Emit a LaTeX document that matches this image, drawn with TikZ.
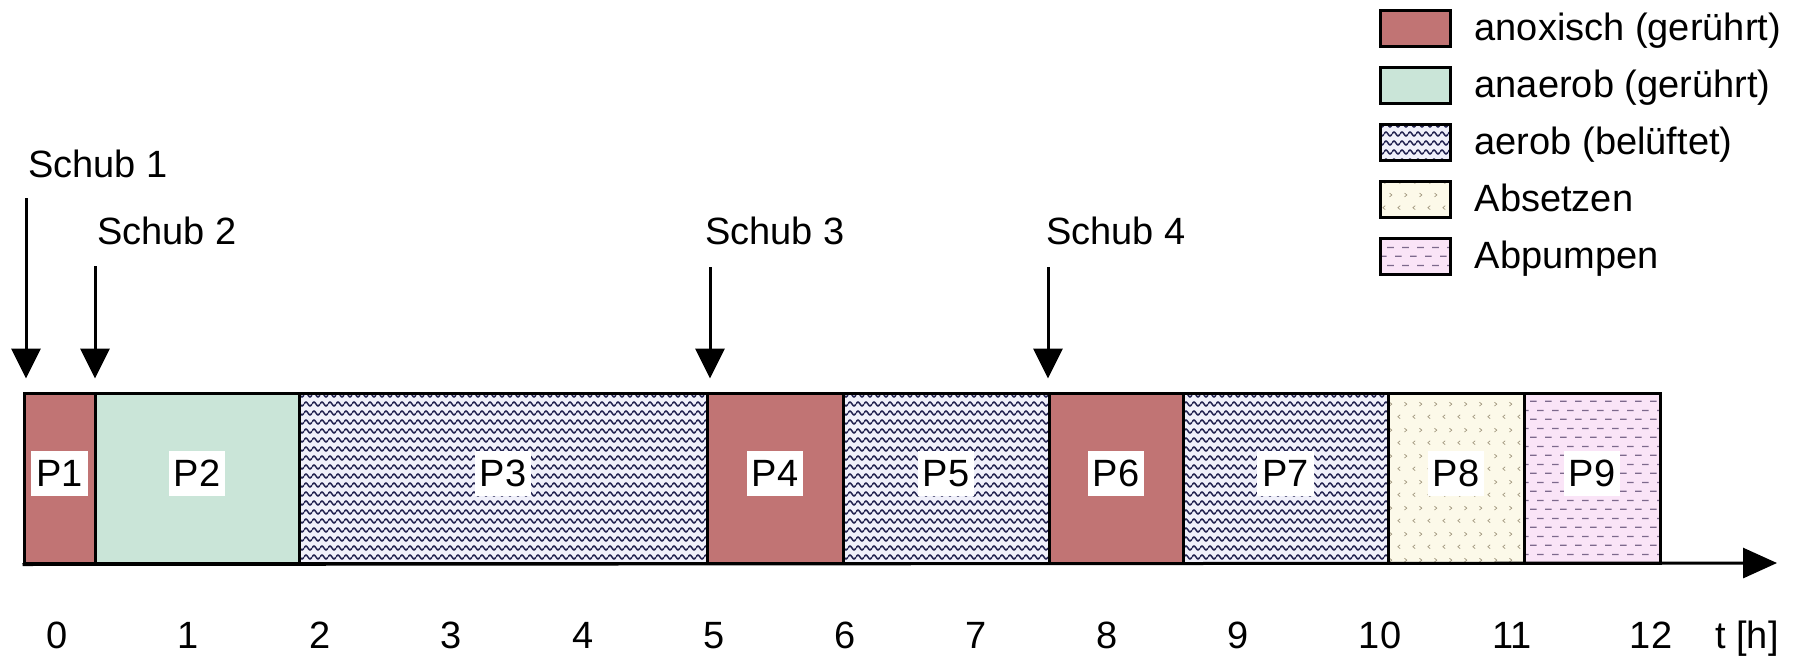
\documentclass[tikz,border=0pt]{standalone}
\usepackage{fontspec}
\setmainfont{Liberation Sans}
\usetikzlibrary{arrows.meta, fit, patterns.meta}

\definecolor{anoxrot}{RGB}{193,116,116}
\definecolor{anaergruen}{RGB}{202,229,216}
\definecolor{aerobgrund}{RGB}{240,240,250}
\definecolor{aerobwelle}{RGB}{35,35,80}
\definecolor{absetzgrund}{RGB}{252,249,233}
\definecolor{absetzmuster}{RGB}{160,150,125}
\definecolor{abpumpgrund}{RGB}{250,228,247}
\definecolor{abpumpmuster}{RGB}{125,105,140}

% Fuellmuster
\tikzdeclarepattern{name=wellen,
  bounding box={(0pt,-4.5pt) and (8pt,4.5pt)}, tile size={(8pt,9pt)},
  code={\draw[line width=1.5pt] (0pt,0pt) sin (2pt,2pt) cos (4pt,0pt) sin (6pt,-2pt) cos (8pt,0pt);}}
\tikzdeclarepattern{name=winkel,
  bounding box={(0pt,0pt) and (15pt,26pt)}, tile size={(15pt,26pt)},
  code={\draw[line width=0.7pt] (5.5pt,4.5pt) -- (3pt,6.5pt) -- (5.5pt,8.5pt);
        \draw[line width=0.7pt] (10pt,17.5pt) -- (12.5pt,19.5pt) -- (10pt,21.5pt);}}
\tikzdeclarepattern{name=striche,
  bounding box={(0pt,0pt) and (15pt,18pt)}, tile size={(15pt,18pt)},
  code={\draw[line width=1.3pt] (0pt,4pt) -- (7pt,4pt);
        \draw[line width=1.3pt] (7.5pt,13pt) -- (14.5pt,13pt);}}

\tikzset{
  phase/.style={draw, line width=3pt, inner sep=0pt},
  anox/.style={fill=anoxrot},
  anaer/.style={fill=anaergruen},
  aerob/.style={preaction={fill=aerobgrund}, pattern=wellen, pattern color=aerobwelle},
  absetz/.style={preaction={fill=absetzgrund}, pattern=winkel, pattern color=absetzmuster},
  abpump/.style={preaction={fill=abpumpgrund}, pattern=striche, pattern color=abpumpmuster},
  plabel/.style={fill=white, inner xsep=5pt, inner ysep=9pt, text height=27pt, text depth=0pt},
  txt/.style={anchor=base west, inner sep=0pt},
  pfeil/.style={-{Triangle[length=30pt,width=29pt]}, line width=3pt, shorten >=13pt},
}

\begin{document}
\begin{tikzpicture}[x=1pt, y=-1pt, font=\fontsize{38}{46}\selectfont]
  \useasboundingbox (0,0) rectangle (1806,656);

  % Phasen
  \foreach \n/\a/\b/\art in {1/24/95/anox, 2/95/299/anaer, 3/299/707/aerob,
      4/707/843/anox, 5/843/1049/aerob, 6/1049/1183/anox, 7/1183/1388/aerob,
      8/1388/1524/absetz, 9/1524/1660/abpump}
  {
    \node[phase, \art, fit={(\a,393) (\b,563)}] (p\n) {};
    \node[plabel] (l\n) at ([yshift=5pt]p\n.center) {P\n};
  }

  % Zeitachse
  \coordinate (ende) at (1777,563);
  \draw[line width=3pt, -{Triangle[length=34pt,width=30pt]}] (p1.south west) -- (ende);
  \foreach \t/\x in {0/57, 1/188, 2/320, 3/451, 4/583, 5/714, 6/845, 7/976,
      8/1107, 9/1238, 10/1380, 11/1512, 12/1651}
    \node[anchor=base] (t\t) at (\x,648) {\t};
  \node[anchor=base] (th) at (1747,648) {t [h]};

  % Beschickung
  \node[txt] (s1) at (28,177) {Schub 1};
  \node[txt] (s2) at (97,244) {Schub 2};
  \node[txt] (s3) at (705,244) {Schub 3};
  \node[txt] (s4) at (1046,244) {Schub 4};
  \coordinate (a1) at (26,198);
  \coordinate (a2) at (95,266);
  \coordinate (a3) at (710,267);
  \coordinate (a4) at (1048,267);
  \draw[pfeil] (a1) -- (a1 |- p1.north);
  \draw[pfeil] (a2) -- (a2 |- p2.north);
  \draw[pfeil] (a3) -- (a3 |- p4.north);
  \draw[pfeil] (a4) -- (a4 |- p6.north);

  % Legende
  \foreach \i/\art/\was in {1/anox/anoxisch (gerührt), 2/anaer/anaerob (gerührt),
      3/aerob/aerob (belüftet), 4/absetz/Absetzen, 5/abpump/Abpumpen}
  {
    \node[phase, \art, minimum width=70pt, minimum height=36pt] (k\i) at (1415,{28+57*(\i-1)}) {};
    \node[txt] (kt\i) at ([xshift=23pt, yshift=-12pt]k\i.east) {\was};
  }
\end{tikzpicture}
\end{document}
